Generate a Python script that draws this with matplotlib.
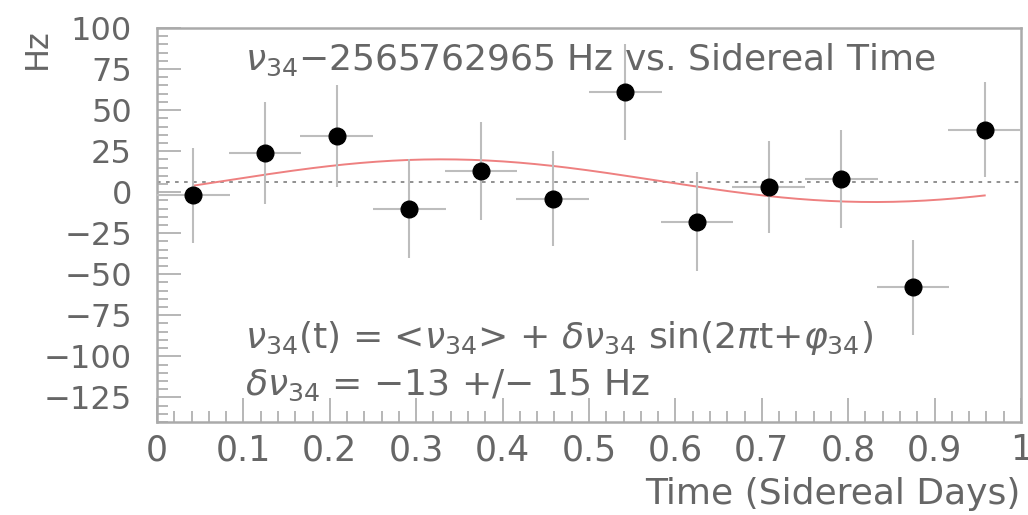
import matplotlib.pyplot as plt
import numpy as np
from matplotlib.ticker import MultipleLocator

# data
t = [0.042, 0.125, 0.208, 0.292, 0.375, 0.458, 0.542, 0.625, 0.708, 0.792, 0.875, 0.958]
nu = [-2, 24, 34, -10, 13, -4, 61, -18, 3, 8, -58, 38]
nu_err = [29, 31, 31, 30, 30, 29, 29, 30, 28, 30, 29, 29]
t_err = [0.042] * 12

# fit parameters (mean, amplitude, phase)
nu_mean = 7.0
amp = 13.0
phase = -0.50

grey = "#666666"
plt.rcParams["font.family"] = ["DejaVu Sans"]
plt.rcParams["mathtext.fontset"] = "dejavusans"

fig = plt.figure(figsize=(10.28, 5.15), dpi=100)
ax = fig.add_axes([0.1527, 0.1806, 0.9932 - 0.1527, 0.9456 - 0.1806])

ax.axhline(nu_mean - 0.5, color="#888888", ls=(0, (2, 3)), lw=1.3, zorder=1)

tt = np.linspace(t[0], t[-1], 200)
ax.plot(tt, nu_mean + amp * np.sin(2 * np.pi * tt + phase), color="#ee8080", lw=1.4, zorder=2)

ax.errorbar(t, nu, xerr=t_err, yerr=nu_err, fmt="o", color="black", ms=12,
            ecolor="#bdbdbd", elinewidth=1.5, capsize=0, zorder=3)

ax.set_xlim(0, 1)
ax.set_ylim(-140, 100)
ax.xaxis.set_minor_locator(MultipleLocator(0.02))
ax.yaxis.set_minor_locator(MultipleLocator(5))
ax.set_xticks(np.arange(0, 1.01, 0.1))
ax.set_xticklabels(["0", "0.1", "0.2", "0.3", "0.4", "0.5", "0.6", "0.7", "0.8", "0.9", "1"])
ax.set_yticks(np.arange(-125, 101, 25))
ax.set_yticklabels(["\u2212125", "\u2212100", "\u221275", "\u221250", "\u221225", "0", "25", "50", "75", "100"])

ax.tick_params(which="both", direction="in", color="#aaaaaa", width=1.2,
               top=False, right=False, labelcolor=grey, labelsize=23)
ax.tick_params(axis="x", pad=8, labelsize=25)
ax.tick_params(axis="y", pad=18)
ax.tick_params(which="major", length=17)
ax.tick_params(which="minor", length=8)
for s in ax.spines.values():
    s.set_color("#aaaaaa")
    s.set_linewidth(1.8)

fig.text(0.036, 0.945, "Hz", rotation=90, ha="center", va="top", color=grey, fontsize=23)
fig.text(0.993, 0.04, "Time (Sidereal Days)", ha="right", va="center", color=grey, fontsize=26)

ax.text(0.102, 0.919, r"$\nu_{34}$" + "\u22122565762965 Hz vs. Sidereal Time",
        transform=ax.transAxes, color=grey, fontsize=26, va="center")
ax.text(0.102, 0.213, r"$\nu_{34}$(t) = <$\nu_{34}$> + $\delta\nu_{34}$ sin(2$\pi$t+$\varphi_{34}$)",
        transform=ax.transAxes, color=grey, fontsize=26, va="center")
ax.text(0.102, 0.094, r"$\delta\nu_{34}$ = $-$13 +/$-$ 15 Hz",
        transform=ax.transAxes, color=grey, fontsize=26, va="center")

fig.savefig("out.png", dpi=100)
